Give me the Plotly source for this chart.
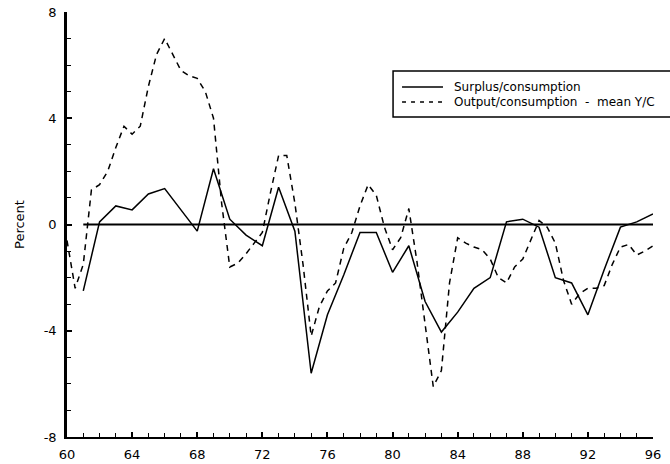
import plotly.graph_objects as go

# Surplus/consumption (annual, 1961-1996), percent
surplus_years = list(range(61, 97))
surplus = [-2.5, 0.1, 0.7, 0.55, 1.15, 1.35, 0.55, -0.25, 2.1, 0.2,
           -0.4, -0.8, 1.4, -0.25, -5.6, -3.4, -1.9, -0.3, -0.3, -1.8,
           -0.8, -2.9, -4.05, -3.3, -2.4, -2.0, 0.1, 0.2, -0.1, -2.0,
           -2.2, -3.4, -1.7, -0.1, 0.1, 0.4]

# Output/consumption - mean Y/C (read at half-year steps, 1960-1996), percent
output_years = [60 + 0.5 * i for i in range(73)]
output = [-0.6, -2.4, -1.5, 1.3, 1.5, 2.0, 2.9, 3.7, 3.4, 3.7,
          5.2, 6.4, 7.0, 6.4, 5.8, 5.6, 5.5, 5.0, 4.0, 0.8,
          -1.6, -1.45, -1.1, -0.7, -0.3, 1.2, 2.6, 2.6, 0.8, -1.5,
          -4.2, -3.1, -2.5, -2.2, -0.9, -0.3, 0.7, 1.5, 1.1, -0.1,
          -0.95, -0.5, 0.6, -1.4, -3.8, -6.1, -5.5, -2.2, -0.5, -0.7,
          -0.85, -0.95, -1.3, -2.0, -2.2, -1.6, -1.3, -0.6, 0.15, -0.1,
          -0.7, -2.1, -3.0, -2.6, -2.4, -2.4, -2.3, -1.5, -0.85, -0.75,
          -1.15, -1.0, -0.8]

series_names = ["Surplus/consumption", "Output/consumption\u00a0 -\u00a0 mean Y/C"]

x_tickvals = [60, 64, 68, 72, 76, 80, 84, 88, 92, 96]
x_ticktext = ["60", "64", "68", "72", "76", "80", "84", "88", "92", "96"]
y_tickvals = [-8, -4, 0, 4, 8]
y_ticktext = ["-8", "-4", "0", "4", "8"]

font_family = "DejaVu Sans, Liberation Sans, Arial, sans-serif"

W, H = 670, 464
ML, MR, MT, MB = 66.5, 16.7, 12, 27
PW, PH = W - ML - MR, H - MT - MB


def px_to_paper(px, py):
    return (px - ML) / PW, (H - MB - py) / PH


fig = go.Figure()
fig.add_trace(go.Scatter(
    x=surplus_years, y=surplus, mode="lines", name=series_names[0],
    line=dict(color="black", width=1.5), showlegend=False))
fig.add_trace(go.Scatter(
    x=output_years, y=output, mode="lines", name=series_names[1],
    line=dict(color="black", width=1.5, dash="6px,5px"), showlegend=False))

fig.add_shape(type="line", xref="x", yref="y", x0=61, x1=96, y0=0, y1=0,
              line=dict(color="black", width=2))

# Legend box, sample lines and labels
bx0, by0 = px_to_paper(393, 117)
bx1, by1 = px_to_paper(675, 71)
fig.add_shape(type="rect", xref="paper", yref="paper", x0=bx0, y0=by0, x1=bx1, y1=by1,
              line=dict(color="black", width=1.5), fillcolor="white", layer="above")
for i, (name, dash) in enumerate(zip(series_names, ["solid", "4px,5px"])):
    ly = 87 + 15 * i
    lx0, lyp = px_to_paper(402, ly)
    lx1, _ = px_to_paper(443, ly)
    tx, _ = px_to_paper(452, ly)
    fig.add_shape(type="line", xref="paper", yref="paper", x0=lx0, x1=lx1, y0=lyp, y1=lyp,
                  line=dict(color="black", width=1.5, dash=dash), layer="above")
    fig.add_annotation(xref="paper", yref="paper", x=tx, y=lyp, text=name, showarrow=False,
                       xanchor="left", yanchor="middle",
                       font=dict(size=12, family=font_family, color="black"))

fig.update_layout(
    width=W, height=H,
    margin=dict(l=ML, r=MR, t=MT, b=MB, autoexpand=False),
    paper_bgcolor="white", plot_bgcolor="white",
    font=dict(family=font_family, color="black", size=12),
    showlegend=False,
    xaxis=dict(range=[60, 96], tickvals=x_tickvals, ticktext=x_ticktext,
               ticks="inside", ticklen=5, tickwidth=1.5, tickcolor="black",
               minor=dict(dtick=1, ticks="inside", ticklen=4, tickwidth=1.2, tickcolor="black"),
               showgrid=False, zeroline=False, showline=True, linecolor="black", linewidth=2,
               automargin=False, ticklabelstandoff=4, ticklabeloverflow="allow",
               tickfont=dict(size=13, family=font_family)),
    yaxis=dict(range=[-8, 8], tickvals=y_tickvals, ticktext=y_ticktext,
               ticks="inside", ticklen=5, tickwidth=1.5, tickcolor="black",
               minor=dict(dtick=1, ticks="inside", ticklen=4, tickwidth=1.2, tickcolor="black"),
               showgrid=False, zeroline=False, showline=True, linecolor="black", linewidth=2.5,
               automargin=False, ticklabelstandoff=5, ticklabeloverflow="allow",
               tickfont=dict(size=13, family=font_family),
               title=dict(text="Percent", font=dict(size=13, family=font_family), standoff=17)),
)

fig.write_html("out.html",
               config={"displayModeBar": False},
               post_script="document.body.style.margin='0';document.body.style.overflow='hidden';")
